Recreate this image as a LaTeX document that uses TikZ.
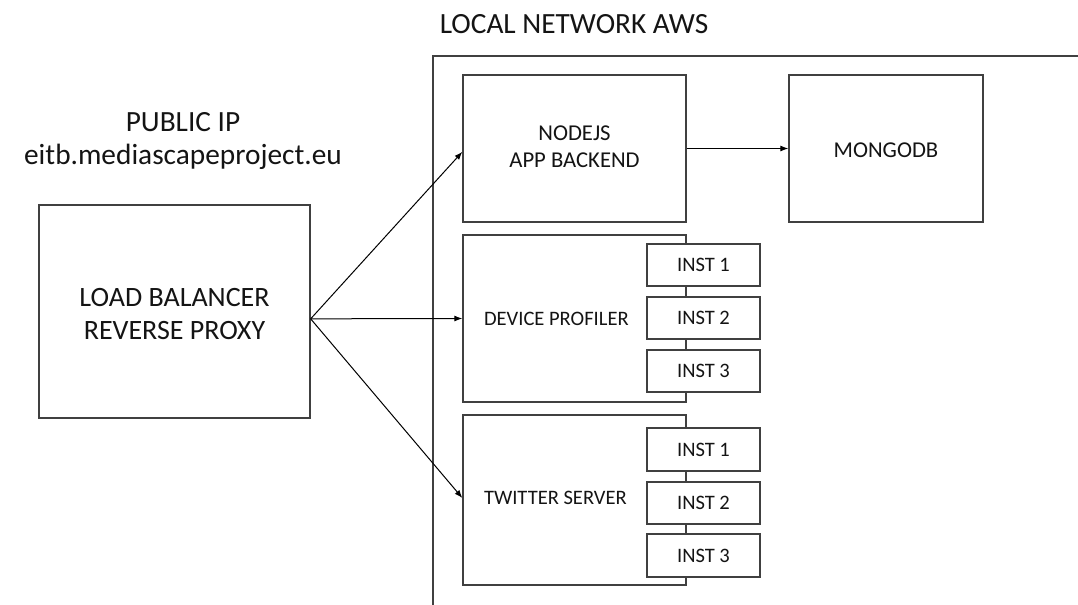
\documentclass[tikz,border=0pt]{standalone}
\usepackage{fontspec}
\setmainfont{Carlito}
\usepackage{xcolor}
\definecolor{box_gray}{RGB}{64,64,64}
\definecolor{text_black}{RGB}{20,20,20}
\usetikzlibrary{fit,arrows.meta}
\tikzset{
  box/.style={draw=box_gray, line width=1pt, inner sep=0pt, fill=white},
  big/.style={font=\fontsize{22}{24.75}\selectfont, align=center, text=text_black},
  lbtext/.style={font=\fontsize{21}{25}\selectfont, align=center, text=text_black},
  mid/.style={font=\fontsize{17}{20.25}\selectfont, align=center, text=text_black},
  small/.style={font=\fontsize{15.4}{17}\selectfont, text=text_black},
  inst/.style={box},
  link/.style={-{Latex[length=6pt,width=4.5pt]}, line width=.75pt, black}
}

\begin{document}
\begin{tikzpicture}[x=0.75pt, y=-0.75pt]
\useasboundingbox (0,0) rectangle (1078,604);
\clip (0,0) rectangle (1078,604);

\draw (574,24) node[big] (awstitle) {LOCAL NETWORK AWS};
\draw (183,141) node[big] (publicip) {PUBLIC IP\\eitb.mediascapeproject.eu};
\node[box, fit={(433,56) (1110,640)}] (aws) {};

\node[box, fit={(39,205) (310,418)}, label={[lbtext, yshift=-2pt]center:LOAD BALANCER\\REVERSE PROXY}] (lb) {};

\node[box, fit={(463,75) (686,222)}, label={[mid, yshift=1pt]center:NODEJS\\APP BACKEND}] (nodejs) {};
\node[box, fit={(789,75) (983,222)}, label={[mid, yshift=-1pt]center:MONGODB}] (mongo) {};

\node[box, fit={(463,235) (686,402)}] (profiler) {};
\node[small, anchor=west] (proftext) at ([xshift=12.75pt]profiler.west) {DEVICE PROFILER};
\node[inst, fit={(647,244) (760,286)}, label={[small]center:INST 1}] (pinsta) {};
\node[inst, fit={(647,297) (760,339)}, label={[small]center:INST 2}] (pinstb) {};
\node[inst, fit={(647,350) (760,392)}, label={[small]center:INST 3}] (pinstc) {};

\node[box, fit={(463,415) (686,585)}] (twitter) {};
\node[small, anchor=west] (twittext) at ([xshift=12.75pt, yshift=1.5pt]twitter.west) {TWITTER SERVER};
\node[inst, fit={(647,428) (760,471)}, label={[small]center:INST 1}] (tinsta) {};
\node[inst, fit={(647,482) (760,524)}, label={[small]center:INST 2}] (tinstb) {};
\node[inst, fit={(647,534) (760,577)}, label={[small]center:INST 3}] (tinstc) {};

\draw[link] ([yshift=-5.5pt]lb.east) -- ([yshift=-2.5pt]nodejs.west);
\draw[link] ([yshift=-5.5pt]lb.east) -- (profiler.west);
\draw[link] ([yshift=-5.5pt]lb.east) -- ([yshift=1.5pt]twitter.west);
\draw[link] (nodejs.east) -- (mongo.west);

\end{tikzpicture}
\end{document}
